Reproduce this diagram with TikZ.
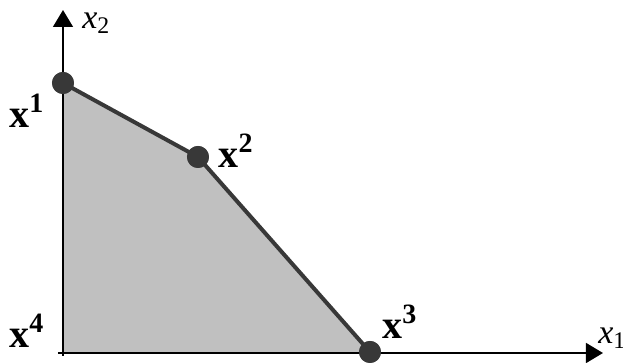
\documentclass[tikz,border=0pt]{standalone}
\usepackage{fontspec}
\setmainfont{Liberation Serif}
\usetikzlibrary{arrows.meta}
\definecolor{regiongray}{HTML}{C0C0C0}
\definecolor{dotgray}{HTML}{383838}
\tikzset{
    axisline/.style={line width=0.75pt, -{Triangle[width=10pt, length=8.5pt]}},
    edgeline/.style={line width=2pt, draw=dotgray},
    vertexdot/.style={circle, fill=dotgray, inner sep=0pt, minimum size=11pt},
    vertexlabel/.style={font=\fontsize{20}{22}\selectfont\bfseries, inner sep=0pt},
    axislabel/.style={font=\fontsize{17}{19}\selectfont\itshape, inner sep=0pt, anchor=west}
}
\begin{document}
\begin{tikzpicture}[x=0.5pt, y=0.5pt]
    \useasboundingbox (-63,-10) rectangle (560,353);
    \coordinate (o) at (0,0);
    \coordinate (xend) at (540,0);
    \coordinate (yend) at (0,343);

    % feasible region
    \fill[regiongray] (0,0) -- (0,270) -- (135,196) -- (307,0) -- cycle;

    % axes
    \draw[axisline] (-5,0) -- (xend);
    \draw[axisline] (0,-3) -- (yend);
    \node[axislabel] (lx1) at (535,15) {x\textsubscript{\upshape 1}};
    \node[axislabel] (lx2) at (19,330) {x\textsubscript{\upshape 2}};

    % vertices
    \node[vertexdot] (p1) at (0,270) {};
    \node[vertexdot] (p2) at (135,196) {};
    \node[vertexdot] (p3) at (307,1) {};
    \coordinate (p4) at (o);
    \draw[edgeline] (p1.center) -- (p2.center) -- (p3.center);
    \draw[line width=0.75pt] (o) -- (p1);
    \node[vertexdot] at (p1) {};
    \node[vertexdot] at (p2) {};
    \node[vertexdot] at (p3) {};

    \node[vertexlabel] (l1) at (-36,242) {x\textsuperscript{1}};
    \node[vertexlabel] (l2) at (173,202) {x\textsuperscript{2}};
    \node[vertexlabel] (l3) at (337,31) {x\textsuperscript{3}};
    \node[vertexlabel] (l4) at (-36,22) {x\textsuperscript{4}};
\end{tikzpicture}
\end{document}
